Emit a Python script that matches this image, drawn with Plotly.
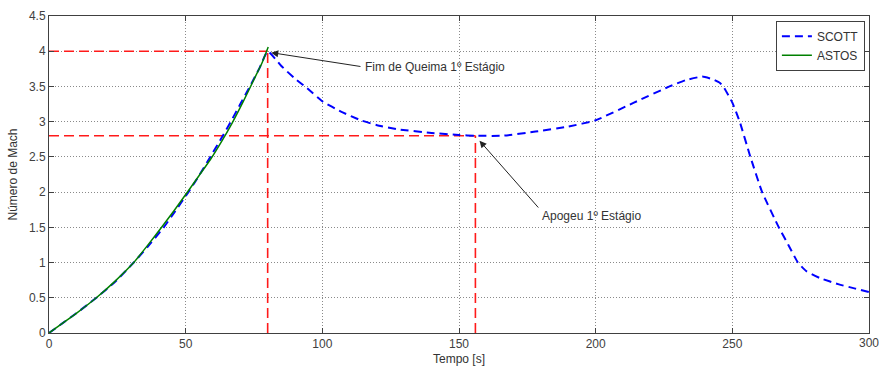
import plotly.graph_objects as go

# SCOTT trajectory: time [s] and Mach number
scott_t = [0, 5, 10, 17, 24, 31, 36, 42, 46, 51, 55, 59, 63, 66.5, 70, 73.5, 77, 80,
           85, 90, 94, 100, 107, 114, 120, 128, 140, 150, 156, 166, 178, 190, 200,
           214, 227, 233, 239, 243, 245.5, 247, 250, 252.7, 256.6, 260.9, 267, 270.5,
           274, 277, 282, 289, 295, 300]
scott_mach = [0, 0.14, 0.28, 0.49, 0.72, 1.0, 1.22, 1.5, 1.72, 2.0, 2.24, 2.5, 2.76,
              3.0, 3.25, 3.5, 3.76, 4.0,
              3.79, 3.61, 3.49, 3.29, 3.14, 3.02, 2.95, 2.89, 2.84, 2.81, 2.80, 2.80,
              2.86, 2.93, 3.02, 3.27, 3.50, 3.59, 3.64, 3.60, 3.55, 3.48, 3.27, 3.0,
              2.5, 2.0, 1.5, 1.25, 1.0, 0.88, 0.78, 0.69, 0.63, 0.58]

# ASTOS trajectory (first stage only)
astos_t = [0, 5, 10, 17, 24, 31, 36, 41.2, 46, 51, 55, 59, 63, 67, 71, 75, 78, 80.2]
astos_mach = [0, 0.14, 0.28, 0.49, 0.73, 1.0, 1.24, 1.5, 1.75, 2.02, 2.24, 2.46,
              2.71, 2.98, 3.28, 3.6, 3.84, 4.06]

# Reference events
burnout_t, burnout_mach = 80, 4.0
apogee_t, apogee_mach = 156, 2.8

x_ticks = [0, 50, 100, 150, 200, 250, 300]
y_ticks = [0, 0.5, 1, 1.5, 2, 2.5, 3, 3.5, 4, 4.5]
y_tick_text = ["0", "0.5", "1", "1.5", "2", "2.5", "3", "3.5", "4", "4.5"]

FONT = "Liberation Sans, Arial, Helvetica, sans-serif"
AXIS_COLOR = "#404040"
TICK_FONT = dict(family=FONT, size=12, color="#404040")
RED = "#ff1a1a"

fig = go.Figure()

# Red dashed guide lines for the two events
for ev_t, ev_m in [(burnout_t, burnout_mach), (apogee_t, apogee_mach)]:
    fig.add_trace(go.Scatter(x=[0, ev_t], y=[ev_m, ev_m], mode="lines",
                             line=dict(color=RED, width=1.6, dash="10px,5px"),
                             showlegend=False, hoverinfo="skip"))
    fig.add_trace(go.Scatter(x=[ev_t, ev_t], y=[0, ev_m], mode="lines",
                             line=dict(color=RED, width=1.6, dash="10px,5px"),
                             showlegend=False, hoverinfo="skip"))

fig.add_trace(go.Scatter(x=scott_t, y=scott_mach, mode="lines", name="SCOTT",
                         line=dict(color="#0000ff", width=2, dash="8px,5px",
                                   shape="spline", smoothing=0.4)))
fig.add_trace(go.Scatter(x=astos_t, y=astos_mach, mode="lines", name="ASTOS",
                         line=dict(color="#008000", width=1.5,
                                   shape="spline", smoothing=0.4)))

# Arrows and event labels
arrow_style = dict(showarrow=True, arrowhead=2, arrowsize=1.4, arrowwidth=1,
                   arrowcolor="#222222", axref="x", ayref="y", text="")
fig.add_annotation(x=81.3, y=3.98, ax=114.5, ay=3.78, **arrow_style)
fig.add_annotation(x=157.5, y=2.73, ax=179.5, ay=1.76, **arrow_style)

label_font = dict(family=FONT, size=12, color="#333333")
fig.add_annotation(x=114.8, y=3.78, text="Fim de Queima 1º Estágio", showarrow=False,
                   xanchor="left", yanchor="middle", font=label_font)
fig.add_annotation(x=179.8, y=1.66, text="Apogeu 1º Estágio", showarrow=False,
                   xanchor="left", yanchor="middle", font=label_font)

# Last x tick label sits on the figure edge and is drawn by hand
fig.add_annotation(x=x_ticks[-1], y=0, yref="y", text=str(x_ticks[-1]),
                   showarrow=False, xanchor="center", yanchor="top", yshift=-1,
                   font=TICK_FONT)

axis_common = dict(
    showline=True, linecolor=AXIS_COLOR, linewidth=1, mirror="allticks",
    ticks="inside", ticklen=5, tickcolor=AXIS_COLOR, tickwidth=1,
    showgrid=True, gridcolor="#8a8a8a", gridwidth=1, griddash="1px,2px",
    zeroline=False, tickfont=TICK_FONT,
)

fig.update_layout(
    width=879, height=373,
    margin=dict(l=49, r=9, t=13, b=35),
    paper_bgcolor="white", plot_bgcolor="white",
    font=dict(family=FONT, size=12, color="#333333"),
    xaxis=dict(range=[0, 300], tickvals=x_ticks,
               title=dict(text="Tempo [s]", standoff=4,
                          font=dict(family=FONT, size=12, color="#333333")),
               **axis_common),
    yaxis=dict(range=[0, 4.5], tickvals=y_ticks, ticktext=y_tick_text,
               title=dict(text="Número de Mach", standoff=8,
                          font=dict(family=FONT, size=12, color="#333333")),
               **axis_common),
    legend=dict(x=0.995, y=0.985, xanchor="right", yanchor="top",
                bgcolor="white", bordercolor=AXIS_COLOR, borderwidth=1,
                font=dict(family=FONT, size=12, color="#333333"),
                itemwidth=30, tracegroupgap=0),
    showlegend=True,
)

fig.write_html("out.html")
